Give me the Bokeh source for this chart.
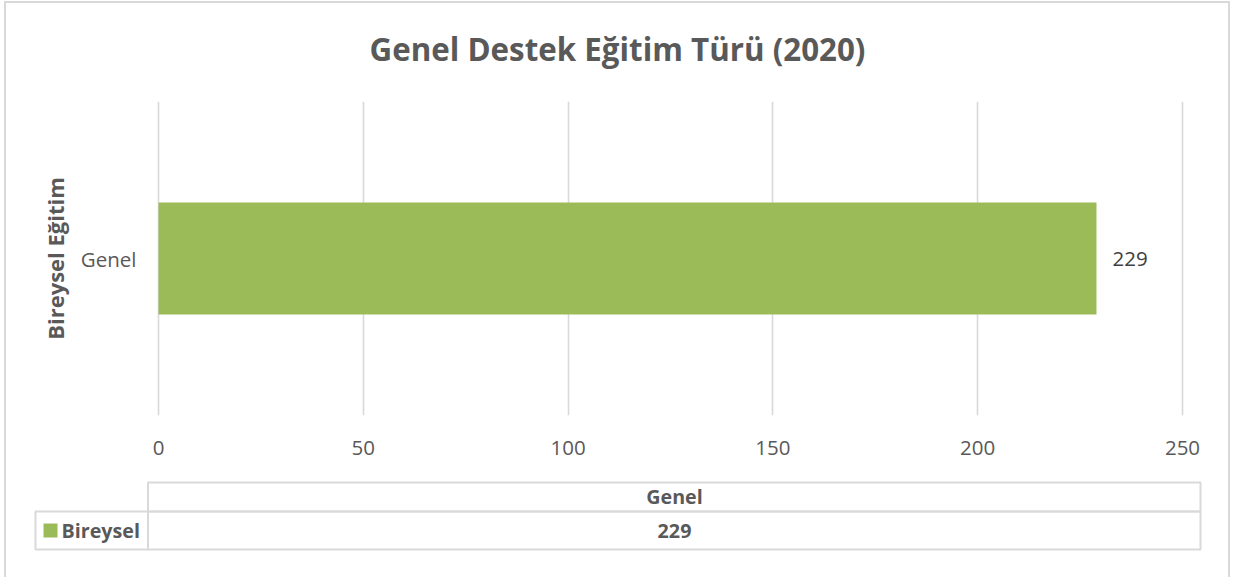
import math
from bokeh.plotting import figure
from bokeh.layouts import column
from bokeh.models import Range1d, FactorRange, FixedTicker
from bokeh.core.properties import value
from bokeh.embed import file_html
from bokeh.resources import INLINE

title_text = "Genel Destek Eğitim Türü (2020)"
categories = ["Genel"]
series_name = "Bireysel"
values = [229]
x_ticks = [0, 50, 100, 150, 200, 250]
y_axis_title = "Bireysel Eğitim"

GREEN = "#9bbb59"
TXT = "#595959"
GRID = "#d9d9d9"
FONT = "Open Sans"

W = 1222
PLOT_LEFT, PLOT_RIGHT = 152, 1176          # pixel extent of the value axis
PX_PER_UNIT = (PLOT_RIGHT - PLOT_LEFT) / (x_ticks[-1] - x_ticks[0])


def blank(height):
    f = figure(width=W, height=height, output_backend="svg", toolbar_location=None,
               x_range=Range1d(0, W), y_range=Range1d(height, 0),
               x_axis_type=None, y_axis_type=None,
               min_border=0, min_border_left=0, min_border_right=0,
               min_border_top=0, min_border_bottom=0)
    f.outline_line_color = None
    f.grid.visible = False
    f.background_fill_color = "white"
    f.border_fill_color = "white"
    return f


# ---- title strip ----
H0 = 90
p0 = blank(H0)
p0.text(x=[611], y=[45], text=[title_text], text_align="center", text_baseline="middle",
        text_font=value(FONT), text_font_style="bold", text_font_size="31.3px",
        text_color=TXT)

# ---- chart ----
H1 = 385
p1 = figure(width=W, height=H1, output_backend="svg", toolbar_location=None,
            x_range=Range1d(x_ticks[0] - PLOT_LEFT / PX_PER_UNIT,
                            x_ticks[0] + (W - PLOT_LEFT) / PX_PER_UNIT),
            y_range=FactorRange(factors=categories), y_axis_type=None,
            min_border_left=0, min_border_right=0, min_border_top=8, min_border_bottom=63)
p1.outline_line_color = None
p1.background_fill_color = "white"
p1.border_fill_color = "white"
p1.ygrid.visible = False
p1.xgrid.grid_line_color = GRID
p1.xgrid.grid_line_width = 1.6
xa = p1.xaxis[0]
xa.ticker = FixedTicker(ticks=x_ticks)
xa.axis_line_color = None
xa.major_tick_line_color = None
xa.minor_tick_line_color = None
xa.major_tick_out = 0
xa.major_tick_in = 0
xa.major_label_text_font = FONT
xa.major_label_text_color = TXT
xa.major_label_text_font_size = "20.5px"
xa.major_label_standoff = 25

p1.hbar(y=categories, left=0, right=values, height=0.357, color=GREEN, line_color=None)
p1.text(x=values, y=categories, text=[str(v) for v in values], x_offset=16,
        text_baseline="middle", text_align="left", text_font=value(FONT),
        text_font_size="20.5px", text_color="#404040")
# category labels and category-axis title
p1.text(x=[0] * len(categories), y=categories, text=categories, x_offset=-22,
        text_baseline="middle", text_align="right", text_font=value(FONT),
        text_font_size="20.5px", text_color=TXT)
p1.text(x=[0], y=[categories[0]], text=[y_axis_title], x_offset=-104, angle=math.pi / 2,
        text_baseline="middle", text_align="center", text_font=value(FONT),
        text_font_style="bold", text_font_size="22px", text_color=TXT)

# ---- data table ----
H2 = 99
p2 = blank(H2)
p2.quad(left=[141.5, 29], right=[1194, 1194], top=[4, 33], bottom=[33, 71],
        fill_alpha=0, line_color=GRID, line_width=2)
p2.segment(x0=[141.5], y0=[4], x1=[141.5], y1=[71], line_color=GRID, line_width=2)
p2.quad(left=[37], right=[51], top=[45], bottom=[59], fill_color=GREEN, line_color=None)
p2.text(x=[668, 668], y=[18, 52], text=[categories[0], str(values[0])],
        text_align="center", text_baseline="middle", text_font=value(FONT),
        text_font_style="bold", text_font_size="19.7px", text_color=TXT)
p2.text(x=[55], y=[52], text=[series_name], text_align="left", text_baseline="middle",
        text_font=value(FONT), text_font_style="bold", text_font_size="19.7px",
        text_color=TXT)

layout = column(p0, p1, p2, margin=(1, 0, 0, 4),
                styles={"border-left": "2px solid #d9d9d9",
                        "border-top": "2px solid #d9d9d9",
                        "border-right": "2px solid #d9d9d9"})

open("out.html", "w").write(file_html(layout, INLINE))
